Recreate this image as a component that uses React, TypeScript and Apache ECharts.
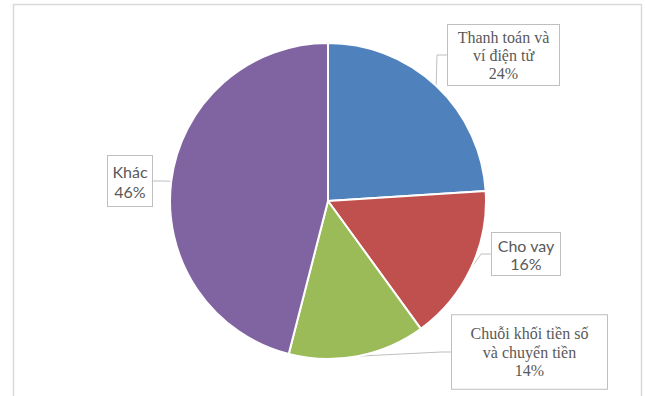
import React, { useEffect, useRef } from "react";
import * as echarts from "echarts";

const categories = ["Thanh toán và\nví điện tử", "Cho vay", "Chuỗi khối tiền số\nvà chuyển tiền", "Khác"];
const values = [24, 16, 14, 46];
const colors = ["#4F81BD", "#C0504D", "#9BBB59", "#8064A2"];

// label box styling (not data)
const labelStyles = [
  { fontFamily: "serif", lineHeight: 18, width: 101, padding: [3, 5, 3, 5], cx: 503.5, cy: 55 },
  { fontFamily: "Lato", lineHeight: 18, width: 60, padding: [3, 4, 3, 4], cx: 526, cy: 254 },
  { fontFamily: "Times New Roman", lineHeight: 18.5, width: 145, padding: [9, 5, 9, 5], cx: 529.5, cy: 352 },
  { fontFamily: "Lato", lineHeight: 20, width: 38, padding: [5, 3, 5, 3], cx: 130, cy: 181 },
];

export default function App() {
  const ref = useRef<HTMLDivElement>(null);
  useEffect(() => {
    document.body.style.margin = "0";
    if (!ref.current) return;
    const chart = echarts.init(ref.current, undefined, { renderer: "svg" });
    const data = categories.map((name, i) => {
      const s = labelStyles[i];
      return {
        name,
        value: values[i],
        itemStyle: { color: colors[i] },
        label: {
          fontFamily: s.fontFamily,
          width: s.width,
          padding: s.padding,
          lineHeight: s.lineHeight,
          overflow: "none",
        },
      };
    });
    chart.setOption({
      animation: false,
      backgroundColor: "#ffffff",
      graphic: [
        {
          type: "rect",
          shape: { x: 13.5, y: 4.5, width: 628, height: 420 },
          style: { fill: "none", stroke: "#D9D9D9", lineWidth: 1.5 },
          z: -1,
        },
      ],
      series: [
        {
          type: "pie",
          center: [328, 201],
          radius: 158,
          startAngle: 90,
          clockwise: true,
          itemStyle: { borderColor: "#ffffff", borderWidth: 2 },
          label: {
            show: true,
            position: "outside",
            fontSize: 16,
            color: "#595959",
            backgroundColor: "#ffffff",
            borderColor: "#BFBFBF",
            borderWidth: 1,
            align: "center",
            overflow: "none",
            formatter: (p: any) => `${p.name}\n${p.value}%`,
          },
          labelLine: {
            show: true,
            length: 10,
            length2: 10,
            lineStyle: { color: "#BFBFBF", width: 1 },
          },
          labelLayout: (params: any) => {
            const s = labelStyles[params.dataIndex];
            return { x: s.cx, y: s.cy, align: "center", verticalAlign: "middle" };
          },
          emphasis: { disabled: true },
          data,
        },
      ],
    });
    return () => chart.dispose();
  }, []);
  return <div ref={ref} style={{ width: 645, height: 396 }} />;
}
